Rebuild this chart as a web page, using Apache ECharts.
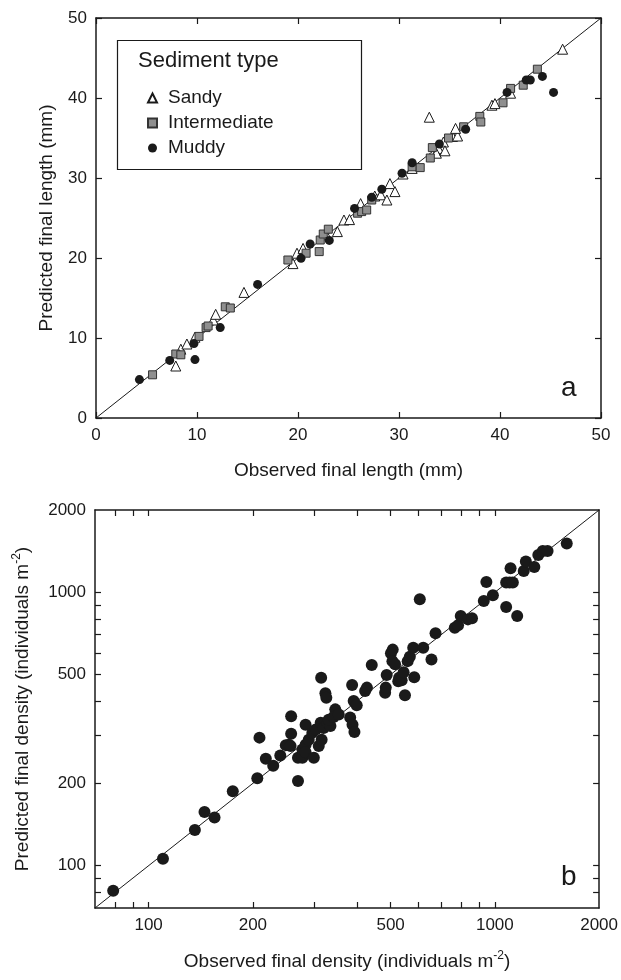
<!DOCTYPE html>
<html>
<head>
<meta charset="utf-8">
<script src="https://cdn.jsdelivr.net/npm/echarts@6/dist/echarts.min.js"></script>
<style>
html,body{margin:0;padding:0;background:#fff;}
#chart{width:621px;height:980px;}
</style>
</head>
<body>
<div id="chart"></div>
<script>
// ---- Panel a: observed vs predicted final length (mm) ----
const lengthSandy = [
  [7.9,6.5],[8.4,8.6],[9.0,9.25],[9.8,10.1],[11.6,12.25],[11.85,12.96],[14.65,15.7],
  [19.5,19.3],[19.9,20.6],[20.5,21.2],[22.8,22.9],[23.9,23.3],[24.55,24.75],[25.1,24.8],
  [26.2,26.8],[27.6,27.75],[28.2,27.9],[28.8,27.25],[29.1,29.3],[29.6,28.3],[30.4,30.5],
  [31.3,31.2],[33.9,33.7],[33.7,33.1],[34.4,34.5],[34.55,33.4],[35.3,35.2],[35.8,35.25],
  [35.6,36.2],[33.0,37.6],[39.2,39.1],[39.5,39.3],[41.05,40.6],[46.2,46.1]
];
const lengthIntermediate = [
  [5.6,5.4],[7.9,8.0],[8.4,7.9],[10.2,10.2],[10.9,11.3],[11.1,11.5],[12.8,13.9],[13.3,13.75],
  [19.0,19.75],[20.8,20.6],[22.1,20.8],[22.2,22.25],[22.5,23.0],[23.0,23.6],[25.9,25.6],
  [26.3,25.8],[26.8,26.0],[27.3,27.25],[31.3,31.4],[32.1,31.3],[33.1,32.5],[33.3,33.8],
  [34.9,35.0],[36.4,36.4],[38.0,37.7],[38.1,37.0],[40.3,39.4],[41.05,41.2],[42.3,41.6],[43.7,43.6]
];
const lengthMuddy = [
  [4.3,4.8],[7.3,7.2],[9.7,9.3],[9.8,7.3],[12.3,11.3],[16.0,16.7],[20.3,19.96],[21.2,21.75],
  [23.1,22.2],[25.6,26.2],[27.3,27.6],[28.3,28.6],[30.3,30.6],[31.3,31.9],[34.0,34.25],
  [36.6,36.1],[40.7,40.7],[42.6,42.25],[43.0,42.25],[44.2,42.7],[45.3,40.7]
];
const lengthLine = [[0,0],[50,50]];
const lengthTicks = [0,10,20,30,40,50];

// ---- Panel b: observed vs predicted final density (individuals m^-2) ----
const densityPoints = [
  [79,81],[110,106],[136,135],[145,157],[155,150],[175,187],[206,209],[209,294],[218,246],
  [229,232],[240,253],[249,276],[254,277],[258,304],[258,352],[257,274],[270,204],[270,248],
  [278,248],[284,328],[278,266],[284,277],[284,260],[290,289],[300,248],[297,306],[304,315],
  [310,274],[316,289],[314,333],[320,319],[328,333],[335,324],[331,342],[346,373],[342,350],
  [354,357],[324,427],[326,411],[315,487],[382,348],[388,328],[393,308],[387,458],[391,400],
  [399,386],[422,435],[427,448],[441,542],[482,429],[484,448],[487,498],[501,598],[507,617],
  [506,560],[515,545],[529,487],[526,473],[538,477],[550,420],[545,510],[560,560],[568,581],
  [581,627],[585,489],[607,943],[621,627],[656,568],[674,708],[766,742],[783,757],[797,819],
  [836,796],[859,803],[929,929],[987,975],[945,1091],[1078,1087],[1103,1087],[1127,1087],
  [1078,884],[1160,819],[1110,1224],[1212,1197],[1229,1295],[1300,1238],[1335,1370],
  [1375,1417],[1420,1417],[1613,1508]
];
const densityLine = [[70,70],[2000,2000]];
const densityLabels = [100,200,500,1000,2000];
const densityTicks = [80,90,100,200,300,400,500,600,700,800,900,1000];

const FONT = 'Liberation Sans, Arial, Helvetica, sans-serif';
const INK = '#1a1a1a';

function linAxis(gridIndex, position, showLabel, name, nameGap) {
  return {
    type: 'value', gridIndex, position, min: 0, max: 50, interval: 10,
    name: name || '', nameLocation: 'middle', nameGap: nameGap || 0,
    nameTextStyle: {fontFamily: FONT, fontSize: 19, color: INK},
    axisLine: {show: true, onZero: false, lineStyle: {color: INK, width: 1.5}},
    axisTick: {show: true, inside: true, length: 6, lineStyle: {color: INK, width: 1.2}},
    axisLabel: {show: showLabel, fontFamily: FONT, fontSize: 17, color: INK, margin: 9,
      customValues: lengthTicks},
    splitLine: {show: false}
  };
}
function logAxis(gridIndex, position, showLabel, name, nameGap) {
  return {
    type: 'log', logBase: 10, gridIndex, position, min: 70, max: 2000,
    name: name || '', nameLocation: 'middle', nameGap: nameGap || 0,
    nameTextStyle: {fontFamily: FONT, fontSize: 19, color: INK,
      rich: {t: {fontFamily: FONT, fontSize: 19, color: INK, lineHeight: 24},
             s: {fontFamily: FONT, fontSize: 12, color: INK, verticalAlign: 'top', lineHeight: 24}}},
    axisLine: {show: true, onZero: false, lineStyle: {color: INK, width: 1.5}},
    axisTick: {show: true, inside: true, length: 6, lineStyle: {color: INK, width: 1.2},
      customValues: densityTicks},
    axisLabel: {show: showLabel, fontFamily: FONT, fontSize: 17, color: INK, margin: 9,
      customValues: densityLabels, formatter: v => String(Math.round(v))},
    minorTick: {show: false},
    splitLine: {show: false}
  };
}

const option = {
  animation: false,
  backgroundColor: '#fff',
  grid: [
    {left: 96, top: 18, width: 505, height: 400},
    {left: 95, top: 510, width: 506, height: 398}
  ],
  xAxis: [
    linAxis(0, 'bottom', true, 'Observed final length (mm)', 43),
    linAxis(0, 'top', false),
    logAxis(1, 'bottom', true, '{t|Observed final density (individuals m}{s|-2}{t|)}', 42),
    logAxis(1, 'top', false)
  ],
  yAxis: [
    linAxis(0, 'left', true, 'Predicted final length (mm)', 40),
    linAxis(0, 'right', false),
    logAxis(1, 'left', true, '{t|Predicted final density (individuals m}{s|-2}{t|)}', 60),
    logAxis(1, 'right', false)
  ],
  legend: {
    data: ['Sandy', 'Intermediate', 'Muddy'],
    orient: 'vertical', left: 142, top: 83,
    itemWidth: 9, itemHeight: 9, itemGap: 5,
    textStyle: {fontFamily: FONT, fontSize: 19, color: INK, lineHeight: 20, padding: [0,0,0,6]}
  },
  graphic: [
    {type: 'rect', left: 115, top: 38, shape: {width: 244, height: 129},
     style: {fill: 'none', stroke: INK, lineWidth: 1.2}, z: 10},
    {type: 'text', left: 138, top: 50, style: {text: 'Sediment type', fontFamily: FONT, fontSize: 22, fill: INK}, z: 10},
    {type: 'text', left: 561, top: 374, style: {text: 'a', fontFamily: FONT, fontSize: 28, fill: INK}, z: 10},
    {type: 'text', left: 561, top: 863, style: {text: 'b', fontFamily: FONT, fontSize: 28, fill: INK}, z: 10}
  ],
  series: [
    {type: 'line', xAxisIndex: 0, yAxisIndex: 0, data: lengthLine, symbol: 'none',
     lineStyle: {color: INK, width: 1}, silent: true, z: 1},
    {name: 'Sandy', type: 'scatter', xAxisIndex: 0, yAxisIndex: 0, data: lengthSandy,
     symbol: 'triangle', symbolSize: 10,
     itemStyle: {color: '#fff', borderColor: INK, borderWidth: 1, opacity: 1}, z: 3},
    {name: 'Intermediate', type: 'scatter', xAxisIndex: 0, yAxisIndex: 0, data: lengthIntermediate,
     symbol: 'rect', symbolSize: 8,
     itemStyle: {color: '#8f8f8f', borderColor: '#333', borderWidth: 1, opacity: 1}, z: 4},
    {name: 'Muddy', type: 'scatter', xAxisIndex: 0, yAxisIndex: 0, data: lengthMuddy,
     symbol: 'circle', symbolSize: 9,
     itemStyle: {color: INK, opacity: 1}, z: 5},
    {type: 'line', xAxisIndex: 2, yAxisIndex: 2, data: densityLine, symbol: 'none',
     lineStyle: {color: INK, width: 1}, silent: true, z: 1},
    {type: 'scatter', xAxisIndex: 2, yAxisIndex: 2, data: densityPoints,
     symbol: 'circle', symbolSize: 12,
     itemStyle: {color: INK, opacity: 1}, z: 3}
  ]
};

const chart = echarts.init(document.getElementById('chart'), null, {renderer: 'canvas'});
chart.setOption(option);
</script>
</body>
</html>
